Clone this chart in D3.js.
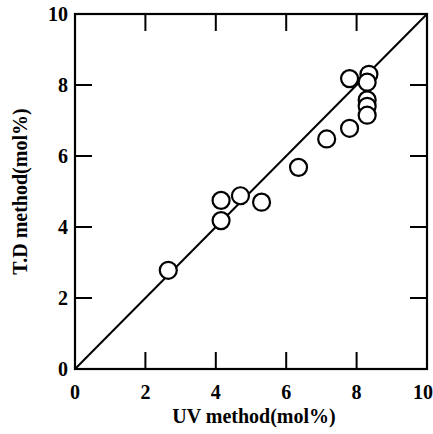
<!DOCTYPE html>
<html lang="en">
<head>
<meta charset="utf-8" />
<title>UV vs T.D</title>
<script src="https://d3js.org/d3.v7.min.js"></script>
<style>
  body { margin: 0; background: #fff; }
  text { font-family: "Liberation Serif", "Times New Roman", serif; font-weight: bold; fill: #000; }
</style>
</head>
<body>
<svg id="chart" width="433" height="434"></svg>
<script>
var uvValues = [2.65, 4.15, 4.15, 4.7, 5.3, 6.35, 7.15, 7.8, 7.8, 8.35, 8.3, 8.3, 8.3, 8.3];
var tdValues = [2.78, 4.18, 4.75, 4.88, 4.7, 5.68, 6.48, 6.78, 8.18, 8.3, 8.08, 7.58, 7.4, 7.15];
var tickValues = [0, 2, 4, 6, 8, 10];

drawChart();
function drawChart() {
  var svg = d3.select("#chart");
  var pLeft = 75, pRight = 427, pTop = 14, pBottom = 369;

  var x = d3.scaleLinear().domain([0, 10]).range([pLeft, pRight]);
  var y = d3.scaleLinear().domain([0, 10]).range([pBottom, pTop]);

  // frame
  svg.append("rect")
    .attr("x", pLeft).attr("y", pTop)
    .attr("width", pRight - pLeft).attr("height", pBottom - pTop)
    .attr("fill", "none").attr("stroke", "#000").attr("stroke-width", 2.2);

  var inner = [2, 4, 6, 8];
  var tickLen = 17;
  var ticks = svg.append("g").attr("stroke", "#000").attr("stroke-width", 2);
  inner.forEach(function(v) {
    ticks.append("line").attr("x1", x(v)).attr("x2", x(v)).attr("y1", pBottom).attr("y2", pBottom - tickLen);
    ticks.append("line").attr("x1", x(v)).attr("x2", x(v)).attr("y1", pTop).attr("y2", pTop + tickLen);
    ticks.append("line").attr("y1", y(v)).attr("y2", y(v)).attr("x1", pLeft).attr("x2", pLeft + tickLen);
    ticks.append("line").attr("y1", y(v)).attr("y2", y(v)).attr("x1", pRight).attr("x2", pRight - tickLen);
  });

  // tick labels
  svg.append("g").selectAll("text").data(tickValues).enter().append("text")
    .attr("x", function(d) { return d === 10 ? x(d) - 4 : x(d); })
    .attr("y", pBottom + 30)
    .attr("text-anchor", "middle")
    .attr("font-size", 20)
    .text(function(d) { return d; });

  svg.append("g").selectAll("text").data(tickValues).enter().append("text")
    .attr("x", pLeft - 7)
    .attr("y", function(d) { return y(d) + 7; })
    .attr("text-anchor", "end")
    .attr("font-size", 20)
    .text(function(d) { return d; });

  // axis titles
  svg.append("text")
    .attr("x", (pLeft + pRight) / 2 + 3).attr("y", 423)
    .attr("text-anchor", "middle").attr("font-size", 20)
    .text("UV method(mol%)");

  svg.append("text")
    .attr("transform", "translate(27," + ((pTop + pBottom) / 2) + ") rotate(-90)")
    .attr("text-anchor", "middle").attr("font-size", 20)
    .text("T.D method(mol%)");

  // 1:1 line
  svg.append("line")
    .attr("x1", x(0)).attr("y1", y(0))
    .attr("x2", x(10)).attr("y2", y(10))
    .attr("stroke", "#000").attr("stroke-width", 2);

  // points
  svg.append("g").selectAll("circle").data(uvValues).enter().append("circle")
    .attr("cx", function(d) { return x(d); })
    .attr("cy", function(d, i) { return y(tdValues[i]); })
    .attr("r", 8.5)
    .attr("fill", "#fff")
    .attr("stroke", "#000")
    .attr("stroke-width", 2.2);
}
</script>
</body>
</html>
